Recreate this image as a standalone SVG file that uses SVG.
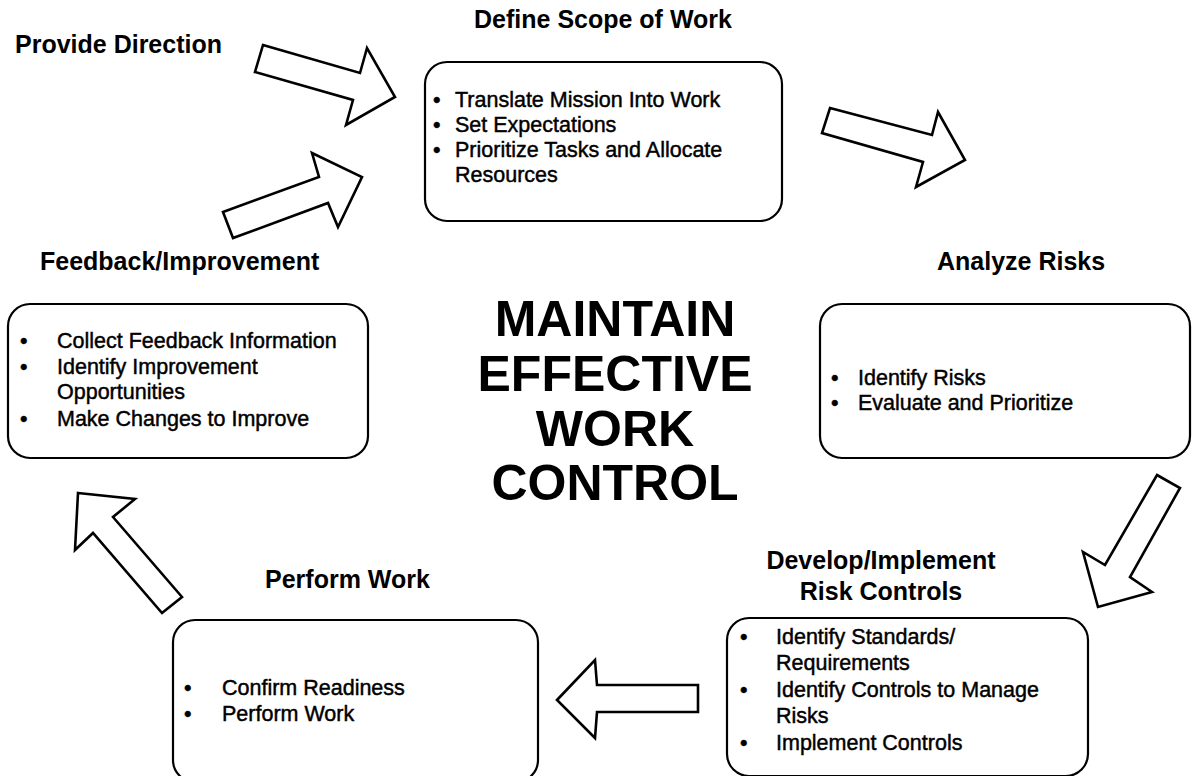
<svg xmlns="http://www.w3.org/2000/svg" width="1199" height="776" viewBox="0 0 1199 776">
  <style>
    .box { fill: #fff; stroke: #000; stroke-width: 2.2; }
    .arrow { fill: #fff; stroke: #000; stroke-width: 2.6; stroke-linejoin: miter; }
    .title { font-family: "Liberation Sans", Arial, sans-serif; font-weight: bold; font-size: 25px; fill: #000; }
    .body { font-family: "Liberation Sans", Arial, sans-serif; font-size: 21.5px; fill: #000; stroke: #000; stroke-width: 0.45; }
    .center { font-family: "Liberation Sans", Arial, sans-serif; font-weight: bold; font-size: 50px; fill: #000; text-anchor: middle; }
  </style>
  <rect width="1199" height="776" fill="#fff"/>

  <!-- block arrows between the stages -->
  <g id="connectors">
    <polygon class="arrow" points="263,45 360,73 367,48 395,97 346,125 353,100 255,72"/>
    <polygon class="arrow" points="223,212 319,177 312,153 362,177 338,227 328,203 233,238"/>
    <polygon class="arrow" points="830,108 932,135 938,112 965,160 916,187 923,162 822,133"/>
    <polygon class="arrow" points="1157,475 1180,488 1130,577 1152,592 1098,607 1083,552 1105,565"/>
    <polygon class="arrow" points="557,700 595,660 597,685 698,685 698,712 597,712 595,738"/>
    <polygon class="arrow" points="78,493 135,499 113,517 182,597 162,613 93,533 75,550"/>
  </g>

  <g id="provide-direction">
    <text class="title" x="15" y="53">Provide Direction</text>
  </g>

  <g id="define-scope">
    <text class="title" x="603" y="28" text-anchor="middle">Define Scope of Work</text>
    <rect class="box" x="425" y="62" width="357" height="159" rx="22"/>
    <text class="body" x="433" y="107">•</text>
    <text class="body" x="455" y="107">Translate Mission Into Work</text>
    <text class="body" x="433" y="132">•</text>
    <text class="body" x="455" y="132">Set Expectations</text>
    <text class="body" x="433" y="157">•</text>
    <text class="body" x="455" y="157">Prioritize Tasks and Allocate</text>
    <text class="body" x="455" y="182">Resources</text>
  </g>

  <g id="analyze-risks">
    <text class="title" x="937" y="270">Analyze Risks</text>
    <rect class="box" x="820" y="304" width="370" height="154" rx="22"/>
    <text class="body" x="831" y="385">•</text>
    <text class="body" x="858" y="385">Identify Risks</text>
    <text class="body" x="831" y="410">•</text>
    <text class="body" x="858" y="410">Evaluate and Prioritize</text>
  </g>

  <g id="develop-controls">
    <text class="title" x="881" y="569" text-anchor="middle">Develop/Implement</text>
    <text class="title" x="881" y="600" text-anchor="middle">Risk Controls</text>
    <rect class="box" x="727" y="618" width="361" height="158" rx="22"/>
    <text class="body" x="740" y="644">•</text>
    <text class="body" x="776" y="644">Identify Standards/</text>
    <text class="body" x="776" y="670">Requirements</text>
    <text class="body" x="740" y="697">•</text>
    <text class="body" x="776" y="697">Identify Controls to Manage</text>
    <text class="body" x="776" y="723">Risks</text>
    <text class="body" x="740" y="750">•</text>
    <text class="body" x="776" y="750">Implement Controls</text>
  </g>

  <g id="perform-work">
    <text class="title" x="265" y="588">Perform Work</text>
    <rect class="box" x="173" y="620" width="365" height="162" rx="22"/>
    <text class="body" x="184" y="695">•</text>
    <text class="body" x="222" y="695">Confirm Readiness</text>
    <text class="body" x="184" y="721">•</text>
    <text class="body" x="222" y="721">Perform Work</text>
  </g>

  <g id="feedback-improvement">
    <text class="title" x="40" y="270">Feedback/Improvement</text>
    <rect class="box" x="8" y="304" width="360" height="154" rx="22"/>
    <text class="body" x="20" y="348">•</text>
    <text class="body" x="57" y="348">Collect Feedback Information</text>
    <text class="body" x="20" y="374">•</text>
    <text class="body" x="57" y="374">Identify Improvement</text>
    <text class="body" x="57" y="399">Opportunities</text>
    <text class="body" x="20" y="426">•</text>
    <text class="body" x="57" y="426">Make Changes to Improve</text>
  </g>

  <g id="center-label">
    <text class="center" x="615" y="336">MAINTAIN</text>
    <text class="center" x="615" y="391">EFFECTIVE</text>
    <text class="center" x="615" y="446">WORK</text>
    <text class="center" x="615" y="500">CONTROL</text>
  </g>
</svg>
